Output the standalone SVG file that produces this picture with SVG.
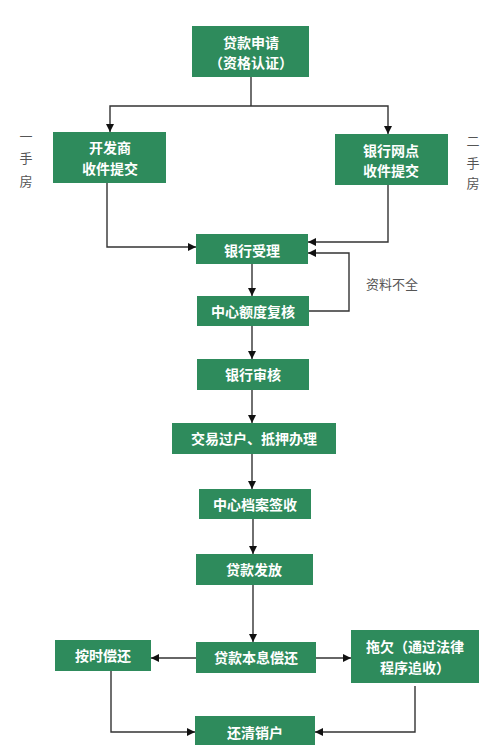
<svg xmlns="http://www.w3.org/2000/svg" width="500" height="745" viewBox="0 0 500 745">
<defs>
<marker id="ah" viewBox="0 0 10 10" refX="10" refY="5" markerWidth="8" markerHeight="8" markerUnits="userSpaceOnUse" orient="auto">
<path d="M0,0 L10,5 L0,10 z" fill="#111"/>
</marker>
<style>
.box{fill:#2e8b5c;}
.t{font-family:"Noto Sans CJK SC","Noto Sans",sans-serif;font-size:14px;font-weight:bold;fill:#ffffff;text-anchor:middle;dominant-baseline:central;}
.s{font-family:"Noto Sans CJK SC","Noto Sans",sans-serif;font-size:13px;fill:#555555;text-anchor:middle;dominant-baseline:central;}
.c{fill:none;stroke:#333333;stroke-width:1.4;}
.a{marker-end:url(#ah);}
</style>
</defs>
<rect width="500" height="745" fill="#ffffff"/>
<g id="connectors">
<path class="c" d="M251,77 V106"/>
<path class="c a" d="M251,106 H110 V132"/>
<path class="c a" d="M251,106 H388 V134"/>
<path class="c a" d="M107,183 V247 H196"/>
<path class="c a" d="M388,185 V242 H308"/>
<path class="c a" d="M252,264 V296"/>
<path class="c a" d="M309,311 H349 V253 H308"/>
<path class="c a" d="M252,326 V359"/>
<path class="c a" d="M252,390 V423"/>
<path class="c a" d="M252,454 V489"/>
<path class="c a" d="M253,519 V554"/>
<path class="c a" d="M253,585 V642"/>
<path class="c a" d="M196,658 H151"/>
<path class="c a" d="M316,658 H351"/>
<path class="c a" d="M111,671 V732 H195"/>
<path class="c a" d="M415,686 V732 H315"/>
</g>
<g id="n-apply"><rect class="box" x="192" y="26" width="117" height="51"/><text class="t" x="251" y="42">贷款申请</text><text class="t" x="251" y="62">（资格认证）</text></g>
<g id="n-dev"><rect class="box" x="53" y="132" width="113" height="51"/><text class="t" x="110" y="147">开发商</text><text class="t" x="110" y="168">收件提交</text></g>
<g id="n-branch"><rect class="box" x="335" y="134" width="113" height="51"/><text class="t" x="391" y="150">银行网点</text><text class="t" x="391" y="170">收件提交</text></g>
<g id="lbl-new"><text class="s" x="26" y="135">一</text><text class="s" x="26" y="157">手</text><text class="s" x="26" y="180">房</text></g>
<g id="lbl-used"><text class="s" x="473" y="140">二</text><text class="s" x="473" y="162">手</text><text class="s" x="473" y="182">房</text></g>
<g id="n-accept"><rect class="box" x="196" y="234" width="112" height="30"/><text class="t" x="252" y="250">银行受理</text></g>
<g id="lbl-incomplete"><text class="s" x="392" y="283">资料不全</text></g>
<g id="n-quota"><rect class="box" x="197" y="296" width="112" height="30"/><text class="t" x="253" y="311">中心额度复核</text></g>
<g id="n-audit"><rect class="box" x="197" y="359" width="112" height="31"/><text class="t" x="253" y="374">银行审核</text></g>
<g id="n-transfer"><rect class="box" x="172" y="423" width="164" height="31"/><text class="t" x="254" y="438">交易过户、抵押办理</text></g>
<g id="n-archive"><rect class="box" x="199" y="489" width="112" height="30"/><text class="t" x="255" y="504">中心档案签收</text></g>
<g id="n-release"><rect class="box" x="196" y="554" width="117" height="31"/><text class="t" x="254" y="569">贷款发放</text></g>
<g id="n-repay"><rect class="box" x="196" y="642" width="120" height="31"/><text class="t" x="256" y="657">贷款本息偿还</text></g>
<g id="n-ontime"><rect class="box" x="55" y="640" width="96" height="31"/><text class="t" x="103" y="655">按时偿还</text></g>
<g id="n-default"><rect class="box" x="351" y="630" width="128" height="53"/><text class="t" x="415" y="646">拖欠（通过法律</text><text class="t" x="415" y="667">程序追收）</text></g>
<g id="n-close"><rect class="box" x="195" y="716" width="120" height="32"/><text class="t" x="255" y="732">还清销户</text></g>
</svg>
